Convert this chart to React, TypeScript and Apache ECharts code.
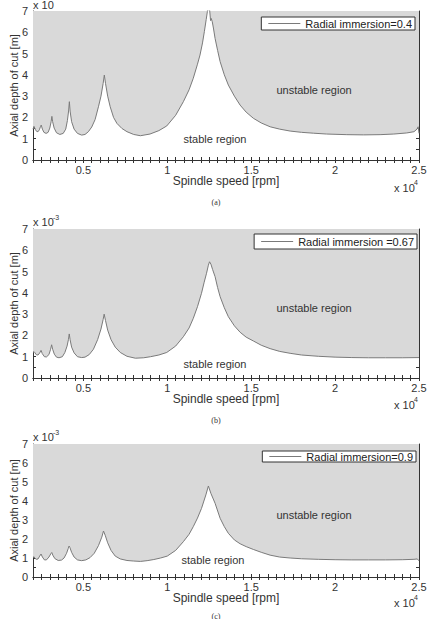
import React, { useEffect, useRef } from 'react';
import * as echarts from 'echarts';

// Spindle speed [rpm] and axial depth of cut [x 1e-3 m], per panel
const speeds1 = [2000, 2060, 2090, 2150, 2220, 2300, 2380, 2450, 2490, 2560, 2650, 2780, 2900, 3000, 3080, 3125, 3170, 3260, 3400, 3600, 3800, 3950, 4050, 4120, 4167, 4210, 4300, 4450, 4650, 4900, 5100, 5300, 5500, 5700, 5900, 6050, 6180, 6250, 6320, 6450, 6600, 6800, 7000, 7300, 7600, 8000, 8400, 8970, 9500, 9970, 10500, 10960, 11300, 11550, 11800, 11950, 12100, 12210, 12320, 12390, 12450, 12530, 12580, 12620, 12680, 12750, 12850, 13000, 13150, 13400, 13640, 14000, 14340, 14700, 15130, 15600, 16130, 16700, 17320, 18000, 18700, 19500, 20700, 21700, 22680, 23500, 24270, 24700, 24880, 24950, 25000];
const depth1 = [1.45, 1.58, 1.6, 1.42, 1.34, 1.33, 1.42, 1.58, 1.64, 1.45, 1.3, 1.25, 1.3, 1.5, 1.8, 2.05, 1.8, 1.5, 1.28, 1.2, 1.25, 1.45, 1.85, 2.3, 2.74, 2.3, 1.8, 1.45, 1.25, 1.17, 1.2, 1.33, 1.55, 1.9, 2.5, 3.0, 3.6, 3.99, 3.6, 3.0, 2.5, 2.0, 1.72, 1.48, 1.33, 1.2, 1.14, 1.22, 1.38, 1.6, 2.1, 2.74, 3.3, 3.84, 4.5, 4.93, 5.5, 6.03, 6.6, 6.97, 7.6, 7.0, 6.55, 6.65, 6.5, 6.2, 5.71, 5.15, 4.62, 4.0, 3.52, 3.0, 2.58, 2.25, 1.96, 1.74, 1.56, 1.45, 1.36, 1.3, 1.26, 1.22, 1.19, 1.18, 1.19, 1.22, 1.27, 1.33, 1.45, 1.56, 1.25];

const speeds2 = [2000, 2060, 2100, 2200, 2300, 2400, 2480, 2550, 2680, 2800, 2950, 3050, 3110, 3170, 3270, 3400, 3550, 3750, 3900, 4030, 4110, 4160, 4210, 4300, 4450, 4650, 4900, 5100, 5350, 5600, 5850, 6050, 6180, 6240, 6320, 6450, 6650, 6900, 7200, 7600, 8100, 8600, 9000, 9500, 9970, 10500, 10960, 11300, 11550, 11800, 12040, 12200, 12340, 12450, 12520, 12600, 12700, 12850, 13000, 13150, 13400, 13640, 14000, 14340, 14700, 15130, 15600, 16130, 16700, 17320, 18000, 19000, 20000, 21000, 22000, 23000, 24000, 25000];
const depth2 = [1.2, 1.24, 1.2, 1.09, 1.08, 1.18, 1.3, 1.15, 1.0, 0.99, 1.1, 1.35, 1.56, 1.35, 1.12, 0.98, 0.95, 1.0, 1.2, 1.5, 1.8, 2.07, 1.8, 1.45, 1.18, 1.0, 0.96, 0.98, 1.1, 1.35, 1.8, 2.3, 2.75, 3.0, 2.7, 2.25, 1.8, 1.45, 1.2, 1.02, 0.93, 0.95, 1.0, 1.08, 1.2, 1.5, 1.94, 2.35, 2.8, 3.35, 3.98, 4.5, 4.92, 5.3, 5.46, 5.35, 5.1, 4.76, 4.25, 3.82, 3.3, 2.88, 2.45, 2.15, 1.92, 1.74, 1.54, 1.38, 1.25, 1.16, 1.08, 1.02, 0.98, 0.96, 0.95, 0.95, 0.95, 0.96];

const speeds3 = [2000, 2060, 2100, 2200, 2300, 2400, 2480, 2560, 2680, 2800, 2950, 3060, 3120, 3180, 3300, 3500, 3700, 3850, 4000, 4100, 4150, 4200, 4300, 4450, 4650, 4900, 5150, 5400, 5650, 5900, 6100, 6200, 6300, 6450, 6650, 6900, 7200, 7600, 8000, 8400, 8800, 9200, 9600, 10000, 10500, 10960, 11300, 11550, 11800, 12040, 12300, 12450, 12600, 12850, 13150, 13400, 13640, 14000, 14340, 14700, 15130, 15600, 16130, 16700, 17320, 18000, 19000, 20000, 21000, 22000, 23000, 24000, 24700, 24900, 25000];
const depth3 = [1.02, 1.07, 1.0, 0.93, 0.95, 1.1, 1.21, 1.05, 0.9, 0.9, 1.05, 1.22, 1.29, 1.15, 0.97, 0.87, 0.89, 1.0, 1.25, 1.5, 1.63, 1.55, 1.3, 1.05, 0.9, 0.86, 0.9, 1.02, 1.25, 1.65, 2.1, 2.42, 2.2, 1.8, 1.4, 1.1, 0.95, 0.87, 0.84, 0.82, 0.86, 0.92, 1.0, 1.1, 1.4, 1.86, 2.25, 2.65, 3.1, 3.61, 4.32, 4.79, 4.4, 3.88, 3.09, 2.65, 2.3, 1.95, 1.75, 1.6, 1.45, 1.3, 1.15, 1.05, 1.0, 0.96, 0.93, 0.91, 0.9, 0.9, 0.9, 0.91, 0.93, 0.95, 0.85];

const legendNames = ['Radial immersion=0.4', 'Radial immersion =0.67', 'Radial immersion=0.9'];
const panelTags = ['(a)', '(b)', '(c)'];
const xMin = 2000;
const xMax = 25000;
const yMin = 0;
const yMax = 7;

const FONT = '"Liberation Sans", Arial, sans-serif';
const INK = '#333';

export default function App() {
  const ref = useRef<HTMLDivElement>(null);
  useEffect(() => {
    if (!ref.current) return;
    const chart = echarts.init(ref.current, undefined, { renderer: 'svg' });
    const panels = [
      { top: 11, height: 149, data: speeds1.map((s, i) => [s, depth1[i]]) },
      { top: 229, height: 149, data: speeds2.map((s, i) => [s, depth2[i]]) },
      { top: 444, height: 133, data: speeds3.map((s, i) => [s, depth3[i]]) },
    ];
    const legendPos = [
      { right: 14, top: 17, padding: [1, 3, 1, 7] },
      { right: 12, top: 234, padding: [2, 3, 2, 7] },
      { right: 13, top: 451, padding: [0, 3, 0, 7] },
    ];
    const grid: any[] = [];
    const xAxis: any[] = [];
    const yAxis: any[] = [];
    const series: any[] = [];
    const legend: any[] = [];
    const tickStyle = { inside: true, length: 3, lineStyle: { color: INK, width: 1 } };
    const lineStyle = { show: true, lineStyle: { color: INK, width: 1 } };
    panels.forEach((p, i) => {
      grid.push({ left: 33, right: 10, top: p.top, height: p.height, containLabel: false, outerBoundsMode: 'none' });
      xAxis.push({
        type: 'value', gridIndex: i, min: xMin, max: xMax, interval: 500, position: 'bottom',
        axisLine: lineStyle, axisTick: tickStyle, splitLine: { show: false },
        axisLabel: {
          fontSize: 11, color: INK, fontFamily: FONT, margin: 4,
          formatter: (v: number) => (Math.round(v) % 5000 === 0 ? String(Math.round(v) / 10000) : ''),
        },
        name: 'Spindle speed [rpm]', nameLocation: 'middle', nameGap: 15, nameMoveOverlap: false,
        nameTextStyle: { fontSize: 12, color: INK, fontFamily: FONT },
      });
      xAxis.push({
        type: 'value', gridIndex: i, min: xMin, max: xMax, interval: 500, position: 'top',
        axisLine: lineStyle, axisTick: tickStyle, splitLine: { show: false }, axisLabel: { show: false },
      });
      yAxis.push({
        type: 'value', gridIndex: i, min: yMin, max: yMax, interval: 0.5, position: 'left',
        axisLine: lineStyle, axisTick: tickStyle, splitLine: { show: false },
        axisLabel: {
          fontSize: 11, color: INK, fontFamily: FONT, margin: 5,
          formatter: (v: number) => (Math.abs(v - Math.round(v)) < 1e-6 ? String(Math.round(v)) : ''),
        },
        name: 'Axial depth of cut [m]', nameLocation: 'middle', nameGap: 14, nameMoveOverlap: false,
        nameTextStyle: { fontSize: 11, color: INK, fontFamily: FONT },
      });
      yAxis.push({
        type: 'value', gridIndex: i, min: yMin, max: yMax, interval: 0.5, position: 'right',
        axisLine: lineStyle, axisTick: tickStyle, splitLine: { show: false }, axisLabel: { show: false },
      });
      series.push({
        type: 'line', name: legendNames[i], xAxisIndex: 2 * i, yAxisIndex: 2 * i,
        data: p.data, showSymbol: false, symbol: 'none', clip: true,
        lineStyle: { color: '#7a7a7a', width: 1 },
        itemStyle: { color: '#7a7a7a' },
        areaStyle: { origin: 'end', color: '#d9d9d9', opacity: 1 },
        z: 1,
      });
      legend.push({
        data: [legendNames[i]], ...legendPos[i], orient: 'horizontal',
        icon: 'rect', itemWidth: 32, itemHeight: 1,
        itemStyle: { color: '#7a7a7a' },
        backgroundColor: '#fff', borderColor: INK, borderWidth: 1, borderRadius: 0,
        textStyle: { fontSize: 11, color: '#222', fontFamily: FONT },
        selectedMode: false,
      });
    });

    const t = (text: string, x: number, y: number, fontSize = 11, align = 'left', family = FONT) => ({
      type: 'text', x, y, silent: true, z: 10,
      style: { text, fontSize, fontFamily: family, fill: INK, align, verticalAlign: 'middle' },
    });
    const graphic: any[] = [
      t('x 10', 33, 5),
      t('x 10', 33, 222), t('-3', 53, 217, 7),
      t('x 10', 33, 437), t('-3', 53, 432, 7),
      t('x 10', 394, 188), t('4', 414, 182, 7),
      t('x 10', 394, 405), t('4', 414, 399, 7),
      t('x 10', 394, 603), t('4', 414, 597, 7),
      t('unstable region', 314, 90, 11, 'center'),
      t('stable region', 215, 139, 11, 'center'),
      t('unstable region', 314, 308, 11, 'center'),
      t('stable region', 215, 364, 11, 'center'),
      t('unstable region', 314, 515, 11, 'center'),
      t('stable region', 213, 560, 11, 'center'),
      t(panelTags[0], 216, 202, 8, 'center', '"Liberation Serif", serif'),
      t(panelTags[1], 216, 420, 8, 'center', '"Liberation Serif", serif'),
      t(panelTags[2], 216, 616, 8, 'center', '"Liberation Serif", serif'),
    ];

    chart.setOption({
      animation: false,
      backgroundColor: '#fff',
      grid, xAxis, yAxis, series, legend, graphic,
    });
    return () => chart.dispose();
  }, []);
  return <div ref={ref} style={{ position: 'absolute', left: 0, top: 0, width: 429, height: 619 }} />;
}
